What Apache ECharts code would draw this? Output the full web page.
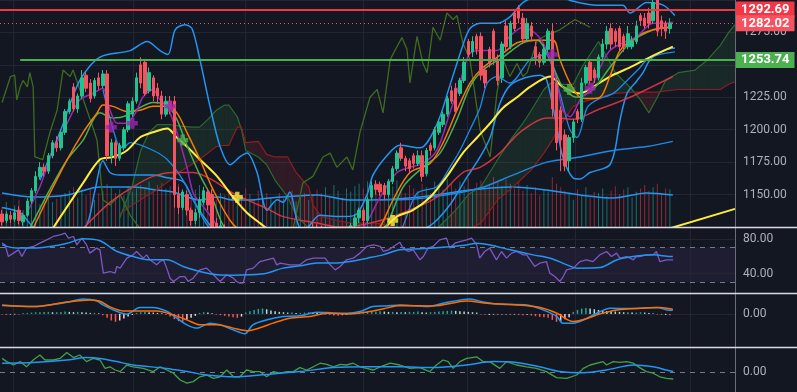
<!DOCTYPE html>
<html><head><meta charset="utf-8">
<script src="https://cdn.jsdelivr.net/npm/echarts@6/dist/echarts.min.js"></script>
<style>html,body{margin:0;padding:0;background:#131722;}#c{width:797px;height:392px;}</style>
</head><body><div id="c"></div>
<script>
// ---------- DATA ----------
const slotCount = 175; // 160 bars + future space
const categories = Array.from({length: slotCount}, (_, i) => 'D' + i);

// [open, close, low, high]
const ohlc = [
[1135,1129,1126,1138],[1130,1135,1128,1137],[1134,1131,1128,1137],[1131,1136,1129,1139],[1138,1130,1127,1141],
[1129,1134,1126,1136],[1134,1145,1133,1147],[1145,1153,1143,1155],[1153,1164,1151,1168],[1164,1171,1162,1175],
[1171,1168,1164,1174],[1168,1180,1166,1182],[1180,1190,1178,1192],[1190,1186,1183,1195],[1186,1198,1184,1200],
[1198,1214,1196,1216],[1214,1222,1212,1224],[1233,1216,1214,1236],[1216,1226,1213,1228],[1226,1240,1224,1246],
[1242,1232,1229,1245],[1236,1224,1221,1239],[1226,1238,1224,1240],[1240,1234,1231,1244],[1234,1243,1232,1246],
[1243,1180,1176,1246],[1180,1190,1174,1193],[1190,1178,1172,1192],[1178,1188,1176,1190],[1186,1200,1184,1202],
[1200,1220,1198,1222],[1212,1222,1210,1225],[1222,1240,1220,1244],[1250,1236,1232,1256],[1252,1228,1226,1254],
[1230,1244,1228,1248],[1240,1226,1222,1242],[1232,1226,1220,1236],[1226,1212,1208,1230],[1212,1222,1210,1226],
[1222,1218,1212,1226],[1222,1150,1140,1226],[1150,1140,1135,1156],[1140,1152,1138,1154],[1150,1138,1134,1153],
[1138,1130,1126,1140],[1130,1136,1127,1139],[1136,1146,1132,1148],[1144,1153,1142,1156],[1152,1142,1138,1155],
[1150,1125,1120,1154],[1128,1118,1114,1132],[1120,1126,1116,1130],[1124,1116,1112,1127],[1116,1110,1105,1120],
[1110,1104,1098,1114],[1104,1108,1100,1112],[1108,1100,1094,1110],[1100,1094,1088,1104],[1094,1098,1090,1102],
[1098,1092,1086,1100],[1092,1088,1082,1096],[1088,1094,1085,1098],[1094,1090,1084,1097],[1090,1096,1087,1100],
[1096,1102,1092,1106],[1102,1098,1094,1108],[1098,1104,1095,1110],[1104,1110,1100,1114],[1110,1106,1102,1116],
[1106,1112,1103,1118],[1112,1118,1108,1122],[1118,1114,1110,1124],[1114,1120,1111,1126],[1122,1116,1112,1128],
[1120,1114,1110,1127],[1116,1110,1106,1126],[1110,1114,1104,1118],[1114,1108,1102,1120],[1108,1112,1104,1116],
[1112,1118,1108,1121],[1118,1114,1110,1122],[1114,1120,1112,1124],[1120,1126,1118,1128],[1126,1132,1122,1135],
[1132,1138,1128,1140],[1138,1130,1126,1140],[1130,1146,1128,1148],[1148,1157,1146,1160],[1158,1154,1150,1161],
[1158,1152,1149,1160],[1157,1150,1146,1159],[1150,1160,1148,1162],[1160,1170,1158,1172],[1170,1182,1168,1184],
[1186,1178,1176,1190],[1178,1172,1168,1180],[1176,1170,1166,1178],[1180,1174,1170,1182],[1174,1180,1172,1184],
[1180,1164,1160,1184],[1166,1184,1164,1186],[1188,1184,1180,1190],[1186,1200,1184,1202],[1198,1206,1196,1208],
[1204,1212,1202,1214],[1212,1224,1210,1226],[1230,1222,1220,1234],[1232,1214,1212,1236],[1228,1238,1226,1240],
[1238,1252,1236,1256],[1268,1258,1256,1270],[1260,1268,1256,1272],[1272,1262,1258,1274],[1272,1242,1238,1275],
[1246,1236,1232,1248],[1262,1251,1248,1264],[1276,1254,1250,1278],[1254,1238,1234,1258],[1240,1266,1236,1268],
[1280,1264,1260,1284],[1264,1282,1262,1284],[1290,1278,1276,1292],[1294,1286,1282,1296],[1286,1270,1266,1290],
[1270,1282,1268,1286],[1280,1272,1268,1283],[1264,1255,1250,1268],[1258,1252,1248,1260],[1252,1262,1250,1266],
[1262,1276,1258,1278],[1276,1216,1210,1282],[1236,1190,1184,1240],[1215,1192,1168,1218],[1196,1172,1168,1200],
[1176,1194,1168,1196],[1194,1206,1190,1208],[1214,1208,1205,1216],[1208,1236,1206,1240],[1236,1248,1234,1250],
[1252,1238,1235,1254],[1246,1240,1236,1248],[1240,1256,1238,1258],[1256,1266,1254,1270],[1266,1276,1262,1280],
[1278,1266,1262,1282],[1276,1268,1264,1278],[1278,1264,1260,1280],[1272,1264,1260,1274],[1264,1274,1262,1280],
[1264,1268,1262,1272],[1268,1280,1266,1284],[1288,1284,1280,1290],[1286,1280,1278,1290],[1290,1282,1278,1294],
[1284,1298,1282,1304],[1300,1276,1272,1306],[1284,1278,1272,1288],[1282,1276,1270,1284],[1278,1282.02,1274,1286]
];

const volume = [
88,110,70,95,120,75,105,
130,140,100,120,145,110,125,135,
150,160,175,130,165,140,170,120,150,
160,190,175,150,165,140,180,155,170,185,
175,200,160,185,195,170,180,210,190,
150,175,130,165,185,140,160,180,120,150,
140,165,120,150,130,170,145,125,160,135,150,
130,110,150,125,140,160,115,135,150,120,145,165,
150,175,140,185,160,130,170,155,180,190,
170,200,160,185,150,175,195,180,205,165,150,185,170,160,190,
175,150,200,185,165,210,190,170,200,180,215,160,195,205,175,185,220,200,180,210,
190,170,200,160,185,150,175,140,165,155,220,190,175,160,150,
120,165,140,175,130,155,150,170,135,160,180,145,165,175,130,155,170,185,160,175,190,150,170,165
];
const volumeMA = [[0,150],[7.4,132],[15.5,141],[23.3,176],[31.2,176],[36.9,163],[40.7,154],[47.1,119],[51.2,132],[55,119],[59,119],[63.8,128],[66.9,132],[75,141],[82.8,119],[87.6,119],[99.5,132],[111.4,163],[121.6,176],[129.7,163],[137.6,141],[145.5,128],[153.5,150],[159.7,141]];

// overlay lines: [bar index, price]
const bbUpper = [[9,1161],[14,1200],[18.5,1238],[23.3,1256],[30.5,1261],[34.5,1268],[37.6,1261],[39.5,1258],[41.2,1277],[43.5,1281],[45.2,1278],[47.1,1254],[49.5,1218],[51.9,1187],[54.3,1173],[56.6,1179],[58.3,1182],[60.7,1167],[63.1,1138],[65.5,1146],[66.9,1144],[68.5,1152],[70.2,1130],[71.6,1121],[75.7,1134],[80.5,1133],[84,1134],[86.9,1150],[88.3,1165],[91.6,1180],[94.7,1188],[99.5,1186],[103.5,1204],[106.6,1234],[109.7,1265],[111.4,1278],[113.8,1282],[117.8,1282],[120.9,1287],[124,1298],[127.4,1302],[132.8,1302],[136,1299],[141.6,1296],[147.8,1296],[149.5,1290],[153.5,1298],[157.4,1296],[160.2,1288]];
const bbLower = [[0,1140],[4.3,1136],[7.8,1124],[13.8,1118],[19.7,1124],[22.1,1153],[24,1176],[25.7,1167],[28.1,1165],[36,1165],[39.3,1163],[43.1,1160],[45.5,1146],[47.8,1134],[50.2,1124],[54.3,1115],[71,1112],[85.2,1113],[94.7,1118],[101.9,1126],[106.6,1142],[110.2,1161],[113.8,1179],[116.2,1194],[118.5,1220],[120.9,1234],[124.5,1240],[128.1,1242],[129.7,1238],[132.1,1202],[133.5,1179],[135.9,1163],[137.6,1162],[140,1167],[143.1,1170],[144.7,1173],[145.9,1184],[147.1,1207],[148.8,1228],[151.2,1238],[152.6,1244],[154.3,1254],[157.4,1261],[160.2,1263]];
const bbInner = [[24,1231],[27.4,1190],[28.8,1186],[30.5,1190],[36,1184],[39.3,1177],[43.1,1161],[47.1,1136],[49.5,1124],[54.3,1115],[92.4,1115],[98.8,1151],[103.5,1156],[106.6,1171],[109,1184],[111.4,1200],[113.8,1217],[115.5,1236],[117.8,1241],[120.9,1236],[125.7,1254],[129.7,1258],[132.8,1228],[135.2,1200],[136.9,1194],[139.3,1217],[141.6,1223],[145.5,1228],[148.8,1238],[151.9,1248],[153.5,1254],[156.6,1258],[160.2,1260]];
const emaPurple = [[5.9,1136],[9,1156],[12.1,1184],[15.5,1205],[18.5,1223],[21.6,1228],[24,1232],[25.7,1215],[27.4,1205],[29.7,1205],[32.1,1215],[33.5,1225],[35.9,1231],[37.6,1223],[39.3,1218],[41.6,1198],[44,1171],[45.5,1151],[47.1,1144],[49.5,1134],[51.9,1123],[56.6,1110],[71,1100],[80.5,1112],[85.2,1121],[87.6,1133],[90,1148],[94,1167],[97.1,1171],[100.2,1174],[103.5,1184],[106.6,1213],[109,1236],[111.4,1259],[114.5,1261],[117.8,1261],[120.9,1272],[124,1279],[127.4,1273],[129.7,1261],[132.1,1236],[133.5,1215],[135.2,1210],[137.6,1223],[140,1231],[142.4,1248],[144.7,1261],[147.8,1267],[151.2,1272],[155,1282],[158.3,1282],[159.7,1283]];
const emaOrange = [[7.4,1124],[11.4,1151],[15.5,1177],[19.3,1198],[22.6,1213],[24,1219],[26.4,1218],[29.7,1214],[32.8,1215],[35.9,1218],[39.3,1218],[41.6,1213],[44,1198],[47.1,1177],[50.2,1154],[54.3,1130],[57.8,1120],[71,1105],[82.8,1110],[87.6,1118],[90,1125],[93.1,1146],[97.1,1167],[101.9,1174],[105,1190],[108.3,1215],[111.4,1236],[114.5,1248],[119.3,1259],[122.6,1267],[126.4,1269],[131.2,1269],[132.8,1254],[135.2,1236],[137.6,1225],[140,1224],[142.4,1225],[144.7,1241],[147.1,1261],[151.2,1272],[155,1277],[159,1279]];
const maGreen = [[6.6,1124],[11.4,1154],[15.5,1177],[19.3,1192],[23.3,1213],[26.4,1209],[29.7,1211],[32.8,1217],[35.9,1221],[39.3,1219],[41.6,1208],[44,1188],[47.1,1165],[50.2,1146],[53.1,1124],[59,1112],[75.7,1100],[87.6,1112],[91.2,1124],[95.5,1156],[100.2,1171],[104.3,1182],[108.3,1208],[111.4,1233],[114.5,1246],[119.3,1256],[124,1267],[127.4,1269],[131.2,1248],[133.5,1233],[136.9,1225],[140.7,1231],[144.7,1248],[149.5,1267],[155,1277],[159,1279]];
const maYellow = [[12.1,1124],[19.3,1159],[23.3,1177],[26.4,1179],[29.7,1184],[32.8,1194],[35.9,1198],[39.3,1201],[41.6,1194],[44,1187],[47.1,1177],[51.2,1164],[55,1148],[58.3,1136],[61.4,1128],[65,1120],[75.7,1112],[87.6,1120],[91.2,1125],[94,1133],[97.8,1138],[101.9,1148],[105.9,1164],[109.7,1182],[113.1,1194],[116.2,1205],[119.3,1217],[122.6,1225],[125.7,1233],[130.5,1241],[133.5,1233],[137.6,1228],[140.7,1233],[144.7,1241],[149.5,1248],[154.3,1256],[159.7,1264]];
const maRed = [[19.3,1124],[25.7,1144],[31.2,1156],[35.9,1164],[40.7,1167],[45.5,1167],[50.2,1161],[55,1151],[59.7,1144],[63.8,1138],[66.9,1133],[75,1128],[80.5,1125],[87.6,1128],[95.5,1136],[103.5,1148],[109.7,1167],[113.8,1171],[118.5,1182],[123.3,1198],[129.7,1209],[132.8,1209],[135.9,1208],[141.6,1215],[149.5,1225],[159.7,1241]];
const maBlueLong = [[90,1146],[94.7,1146],[104.3,1149],[113.8,1155],[121.6,1165],[129.7,1175],[137.6,1179],[145.5,1184],[153.5,1187],[159.7,1191]];
const trendYellow = [[158,1123],[174.5,1139]];
const chikou = [[0,1221],[2,1241],[3,1242],[3.5,1223],[4.3,1233],[5,1238],[6,1233],[6.6,1244],[7.4,1233],[7.8,1179],[9.7,1177],[11.4,1198],[13.1,1215],[14.5,1246],[16.2,1241],[16.9,1246],[18.5,1231],[20.2,1215],[21.6,1202],[22.6,1192],[23.3,1169],[24,1146],[25.7,1142],[28.1,1150],[30.5,1134],[32.8,1124],[40,1110],[55,1100],[67,1115],[69.3,1124],[71.6,1159],[74,1164],[76.4,1179],[78.1,1182],[79.7,1171],[82.1,1179],[83.5,1169],[85.2,1198],[87.6,1225],[89.3,1231],[90.7,1213],[92.4,1254],[94,1264],[95.2,1271],[96.4,1262],[97.1,1236],[98.8,1272],[100.2,1251],[101.2,1244],[102.6,1279],[104.3,1269],[105.9,1290],[107.4,1285],[108.3,1288],[109.7,1267],[111.4,1254],[113.8,1200],[116.2,1179],[117.8,1228],[119.3,1254],[120.9,1241],[122.6,1251],[124,1241],[125,1244],[127.4,1269],[129.7,1273],[132.8,1277],[136.4,1285],[140,1279]];

// Ichimoku cloud samples
const cloudIdx = [28,31,33,35,37,40,42,45,47,49,51,53,54,56,57,58,61,63,65,68,70,73,74,76,80,83,89,95,100,104,108,111,114,118,121,124,126,129,131,133,136,138,140,142,146,150,152,154,156,158,161,165,168,171,173,174.5];
const spanA = [1132,1157,1184,1198,1204,1204,1203,1202,1202,1208,1215,1219,1219,1210,1200,1184,1179,1173,1161,1148,1134,1124,1119,1115,1111,1111,1111,1115,1119,1125,1138,1150,1156,1177,1192,1205,1215,1231,1237,1235,1235,1248,1258,1268,1244,1231,1223,1213,1225,1238,1244,1246,1254,1265,1275,1281];
const spanB = [1135,1142,1146,1150,1154,1161,1167,1173,1177,1182,1187,1188,1188,1202,1202,1190,1191,1181,1179,1179,1167,1156,1142,1133,1130,1128,1128,1124,1123,1121,1121,1123,1128,1146,1154,1163,1169,1182,1192,1204,1218,1221,1223,1225,1228,1229,1229,1229,1229,1230,1231,1231,1231,1231,1235,1237];

// signal crosses
const crossPurple = [[26,1202],[31,1205],[40,1218],[131,1258],[140,1232]];
const crossGreen = [[43,1192],[135,1231]];
const crossYellow = [[56,1148],[93,1130]];

// horizontal levels
const levelRed = 1292.69, levelLast = 1282.02, levelGreen = 1253.74, levelGreenStart = 4.3;
// date grid positions (bar index)
const timeGrid = [2.6, 31.2, 57.8, 85.9, 110.7, 136.4, 163.8];

// RSI
const rsi = [[0,75],[0.7,73],[1.5,59.6],[2.7,63.5],[3.9,67.3],[4.7,59.6],[5.8,69.3],[7.4,71.2],[9,75],[10.6,78.8],[12.2,82.7],[13.8,84.6],[15,86.5],[15.8,80.8],[17,82.7],[17.8,73],[19,80.8],[20.1,73],[20.9,63.5],[22.5,69.3],[23.3,67.3],[24.1,40.4],[25.7,42.3],[26.9,40.4],[27.3,48.1],[28.1,46.2],[29.7,57.7],[31.2,61.5],[32,65.4],[33.6,57.7],[34.4,61.5],[35.2,55.8],[36.8,50],[37.6,53.8],[38.4,55.8],[39.2,46.2],[40,34.6],[40.8,30.8],[42.4,36.5],[43.5,36.5],[44.3,30.8],[45.5,34.6],[47.1,44.2],[48.7,46.2],[50.3,38.5],[51.9,30.8],[53.5,38.5],[55.1,34.6],[55.8,30.8],[56.6,28.9],[57.4,28.9],[58.2,44.2],[59.8,46.2],[61.4,53.8],[63,55.8],[64.6,57.7],[65.4,50],[66.2,51.9],[68.5,50],[70.9,50],[72.5,55.8],[74.1,57.7],[75.7,57.7],[76.9,57.7],[78.1,50],[79.3,44.2],[80.5,48.1],[82,55.8],[83.6,57.7],[85.2,63.5],[86.8,71.2],[88.4,73],[90,71.2],[90.8,65.4],[92,67.3],[93.2,71.2],[94.7,76],[95.5,69.3],[96.7,65.4],[97.9,67.3],[99.5,55.8],[100.3,59.6],[101.4,69.3],[102.6,71.2],[104.2,78.8],[105.8,80.8],[106.6,69.3],[107.8,75],[109,76.9],[110.6,78.8],[111.8,80.8],[113,73],[113.7,57.7],[114.9,65.4],[116.1,69.3],[117.7,55.8],[118.9,65.4],[120.1,57.7],[121.3,63.5],[122.5,65.4],[124.1,61.5],[124.9,61.5],[126,53.8],[126.8,48.1],[128,51.9],[129.6,53.8],[130.4,40.4],[131.6,36.5],[132.8,30.8],[133.6,36.5],[134.4,44.2],[136,46.2],[137.6,53.8],[139.1,55.8],[140.7,53.8],[142.3,61.5],[143.9,65.4],[145.1,59.6],[146.3,63.5],[147.1,57.7],[148.7,59.6],[150.3,55.8],[151,59.6],[151.8,59.6],[153.4,61.5],[155,61.5],[155.8,65.4],[156.6,53.8],[158.2,55.8],[159.8,55.8]];
const rsiMA = [[0,73],[3.5,69.3],[7.4,69.3],[11.4,71.2],[15.5,75],[19.3,80],[23.3,77.7],[27.4,65.4],[31.2,59.6],[35.2,55.8],[39.3,55.8],[43.1,48.1],[47.1,42.3],[51.2,38.5],[55,38],[59,38.5],[63,40.4],[66.9,46.2],[71,49],[75,52],[78.8,52],[82.8,53.8],[86.9,57.7],[90.7,61.5],[94.7,67.3],[102.6,69.3],[110.7,73],[113,75],[116.2,73],[121,67.3],[126.4,61.5],[130.5,57.7],[134.5,50],[136.9,46.2],[142.4,46.9],[146.4,55.8],[150.2,59.6],[155,61.5],[158.3,60],[159.7,59.6]];

// MACD
const macdLine = [[0,2.7],[7.4,2.2],[15.5,3.5],[19.3,4.5],[22.6,3.9],[24,2.7],[27.4,0.7],[29.7,-0.1],[32.8,1.9],[35.9,1.9],[39.3,0.7],[41.6,-1.3],[44,-3.3],[46.4,-4.3],[49.5,-2.8],[51.9,-3.3],[55,-4.8],[57.8,-6],[59.7,-3.3],[63.1,-1.8],[66.9,-0.8],[70.9,-0.6],[75,0.5],[78.8,0.3],[82.1,0.2],[85.2,0.7],[88.3,2.2],[91.6,2.4],[94.7,2.7],[101.2,2.2],[105,3.2],[111.4,4.5],[114.5,3.6],[118.5,2.9],[125,2.7],[128.8,1.2],[132.1,-0.8],[133.5,-2.8],[135.9,-2.8],[139.3,-1.3],[142.4,0.7],[144.7,1.7],[150.2,1.6],[155.9,1.9],[158.3,1.2],[159.7,1.1]];
const macdSignal = [[0,2.5],[7.4,2.2],[15.5,3.6],[21,4.2],[23.3,3.8],[25.7,2.1],[28.8,0.9],[32.8,0.9],[36.9,0.9],[40.7,-0.3],[44,-1.8],[47.1,-3.3],[51.2,-3.3],[55,-4.3],[58.3,-5.1],[61.4,-4.2],[64.5,-2.8],[68.5,-1.3],[73.3,-0.8],[77.4,0.2],[82.8,0],[86.9,0.6],[90.7,1.5],[94.7,2.5],[102.6,2.4],[110.7,3.9],[115.5,3.2],[122.6,2.7],[128.1,1.9],[132.1,0.2],[135.9,-2.3],[138.3,-1.8],[142.4,0],[146.4,1.2],[151.9,1.7],[156.6,1.9],[159.7,1.4]];
const macdHist = [
-0.2,-0.3,-0.2,-0.2,-0.1,0.2,0.3,
0.4,0.5,0.5,0.6,0.6,0.5,0.5,0.6,0.7,0.6,0.5,0.6,0.5,0.4,0.3,0.3,0.2,
-0.4,-1.2,-2.0,-2.4,-2.0,-1.4,-0.8,-0.3,
0.3,0.5,0.6,0.5,0.4,0.3,0.2,
-0.3,-0.8,-1.6,-2.2,-2.4,-1.8,-1.2,-0.6,
0.3,0.5,0.4,0.2,-0.2,-0.4,-0.6,-0.8,
-1.0,-1.2,-0.8,
0.4,0.8,1.2,1.5,1.6,1.4,1.0,0.8,
0.6,0.5,0.4,0.4,0.3,0.3,0.4,
0.5,0.4,0.3,0.2,-0.2,-0.3,
-0.5,-0.6,-0.4,-0.3,
0.3,0.4,0.5,0.6,0.6,0.7,0.7,0.8,0.7,0.6,0.6,0.5,0.6,
0.5,0.6,0.6,0.7,0.5,0.4,0.5,0.6,
0.7,0.8,0.9,1.0,0.9,0.8,0.7,0.6,0.5,0.4,
-0.2,-0.3,-0.3,-0.2,-0.3,-0.2,-0.2,-0.3,-0.2,-0.3,-0.4,-0.3,-0.5,
-0.7,-0.9,-1.0,-1.2,
-1.8,-2.4,-2.2,-1.6,-1.0,
0.6,1.2,1.6,1.8,1.6,1.4,
1.2,1.0,0.9,0.8,0.7,0.6,0.5,0.5,0.4,
0.4,0.5,0.4,0.3,0.3,
-0.2,-0.3,-0.3,-0.4
];

// bottom oscillator
const oscLine = [[0,3.4],[1.1,2.6],[2.7,1.75],[4.3,2.6],[5.8,1.3],[7.4,3.0],[9,4.25],[10.2,3.0],[12.2,3.0],[13.8,3.4],[15.4,4.9],[17,3.6],[18.5,4.25],[20.1,2.6],[21.7,3.4],[23.3,3.0],[24.5,0.9],[25.7,1.3],[26.9,0.5],[28.1,0.1],[29.7,1.75],[31.2,1.3],[33.6,0.9],[36,0.1],[37.6,1.3],[39.2,0.5],[40.8,-0.3],[42.4,-2],[44,-2.8],[45.5,-2.4],[47.1,-1.2],[48.7,-0.75],[50.3,-1.6],[51.9,-1.2],[53.5,0.5],[55.1,-1.2],[56.6,-1.2],[58.2,0.5],[59.8,0.1],[61.4,0.1],[63,-1.2],[64.6,0.1],[66.2,-0.3],[67.8,0.1],[69.3,0.1],[70.9,1.1],[72.5,0.5],[74.1,1.3],[75.7,2.2],[77.3,1.9],[78.9,1.3],[80.5,1.9],[82,1.75],[83.6,2.2],[85.2,1.3],[86.8,0.9],[88.4,0.5],[90,1.3],[92.4,2.2],[94.7,1.75],[97.1,0.9],[99.5,1.1],[101.8,0.1],[103.4,1.75],[105,3.0],[106.2,2.6],[107.4,0.9],[109,2.6],[110.6,3.4],[113,3.8],[114.5,2.6],[116.1,2.6],[118.5,0.9],[120.1,2.6],[122.5,1.75],[124.9,1.3],[127.2,0.9],[129.6,0.1],[132,-1.4],[134.4,-1.6],[136.8,-0.75],[138.4,0.9],[140,1.75],[143.1,2.6],[143.9,1.75],[145.5,2.6],[147.1,2.4],[148.7,2.6],[150.3,2.2],[151.8,1.1],[153.4,0.1],[155,-0.3],[156.6,-1.2],[158.2,-1.6],[159.8,-1.75]];
const oscSignal = [[0,2.2],[7.4,2.4],[15.4,3.0],[20.1,3.6],[23.3,3.4],[27.3,2.6],[31.2,1.75],[39.2,0.9],[44,0.1],[48.7,-0.75],[55.1,-1.2],[63,-0.6],[70.9,0.1],[78.9,1.1],[86.8,1.3],[94.7,1.3],[102.6,1.1],[110.6,1.75],[116.9,2.6],[122.5,2.4],[128,1.3],[132.8,0.1],[138.4,-0.2],[143.9,0.5],[150.3,1.75],[155,1.3],[158.2,0.5],[159.8,0.1]];

// ---------- CHART ----------
const bg = '#131722', gridC = '#232632', axisTxt = '#aeb1ba';
const upC = '#22c38e', downC = '#f7525f';
const chart = echarts.init(document.getElementById('c'), null, {renderer: 'canvas'});
const W = 797, RIGHT = 62;
const grids = [
  {left: 0, right: RIGHT, top: 0, height: 227},
  {left: 0, right: RIGHT, top: 228, height: 65},
  {left: 0, right: RIGHT, top: 294, height: 53},
  {left: 0, right: RIGHT, top: 348, height: 44}
].map(g => Object.assign(g, {outerBoundsMode: 'none', containLabel: false}));

const catAxis = (gi) => ({type: 'category', gridIndex: gi, data: categories, show: false, boundaryGap: true});
const valX = (gi) => ({type: 'value', gridIndex: gi, min: -0.5, max: slotCount - 0.5, show: false});
const lbl = {color: axisTxt, fontSize: 12, fontFamily: 'Roboto', margin: 8};

function line(data, color, width, xi, yi, extra) {
  return Object.assign({type: 'line', data, xAxisIndex: xi, yAxisIndex: yi, symbol: 'none', silent: true,
    lineStyle: {color, width}, z: 3, clip: true, animation: false}, extra || {});
}
const LZ = 10; // lower panes drawn above the main-pane mask
const vgrid = (z) => ({silent: true, symbol: 'none', z, label: {show: false}, lineStyle: {color: gridC, width: 1, type: 'solid'},
  data: timeGrid.map(v => ({xAxis: v}))});

function renderCloud(params, api) {
  const i = params.dataIndex;
  if (i >= cloudIdx.length - 1) return null;
  const x0 = cloudIdx[i], x1 = cloudIdx[i + 1];
  const a0 = spanA[i], a1 = spanA[i + 1], b0 = spanB[i], b1 = spanB[i + 1];
  const d0 = a0 - b0, d1 = a1 - b1;
  const P = (x, v) => api.coord([x, v]);
  const polys = [];
  if (d0 * d1 < 0) {
    const t = d0 / (d0 - d1);
    const xm = x0 + t * (x1 - x0), vm = a0 + t * (a1 - a0);
    polys.push({pts: [P(x0, a0), P(xm, vm), P(x0, b0)], up: d0 > 0});
    polys.push({pts: [P(xm, vm), P(x1, a1), P(x1, b1)], up: d1 > 0});
  } else {
    polys.push({pts: [P(x0, a0), P(x1, a1), P(x1, b1), P(x0, b0)], up: (d0 + d1) >= 0});
  }
  return {type: 'group', children: polys.map(p => ({type: 'polygon', shape: {points: p.pts},
    style: {fill: p.up ? 'rgba(76,175,80,0.12)' : 'rgba(242,54,69,0.13)', stroke: null}}))};
}

const crossPath = 'path://M3,0H7V3H10V7H7V10H3V7H0V3H3Z';
function cross(data, color) {
  return {type: 'scatter', xAxisIndex: 1, yAxisIndex: 0, data, symbol: crossPath, symbolSize: 11,
    itemStyle: {color}, z: 6, silent: true};
}
function levelLabel(bgc, value) {
  return {show: true, position: 'end', distance: 1, formatter: value.toFixed(2),
    color: '#ffffff', backgroundColor: bgc, padding: [2, 5, 1, 5], fontSize: 13, fontWeight: 'bold', fontFamily: 'Roboto'};
}
const dashed = {color: '#787b86', width: 1, type: [5, 5]};
const solidGrid = {color: gridC, width: 1, type: 'solid'};

const option = {
  backgroundColor: bg,
  animation: false,
  textStyle: {fontFamily: 'Roboto'},
  grid: grids,
  xAxis: [catAxis(0), valX(0), valX(1), catAxis(2), valX(2), valX(3)],
  yAxis: [
    {type: 'value', gridIndex: 0, position: 'right', min: 1125, max: 1300, interval: 25,
      axisLine: {show: false}, axisTick: {show: false},
      axisLabel: Object.assign({}, lbl, {formatter: v => (v <= 1125 || v >= 1300) ? '' : v.toFixed(2)}),
      splitLine: {show: true, lineStyle: {color: gridC}}},
    {type: 'value', gridIndex: 0, min: 0, max: 1000, show: false},
    {type: 'value', gridIndex: 1, position: 'right', min: 17.5, max: 92.5,
      axisLine: {show: false}, axisTick: {show: false}, splitLine: {show: false},
      axisLabel: Object.assign({}, lbl, {customValues: [40, 80], formatter: v => v.toFixed(2)})},
    {type: 'value', gridIndex: 2, position: 'right', min: -10, max: 6,
      axisLine: {show: false}, axisTick: {show: false}, splitLine: {show: false},
      axisLabel: Object.assign({}, lbl, {customValues: [0], formatter: v => v.toFixed(2)})},
    {type: 'value', gridIndex: 3, position: 'right', min: -5, max: 6,
      axisLine: {show: false}, axisTick: {show: false}, splitLine: {show: false},
      axisLabel: Object.assign({}, lbl, {customValues: [0], formatter: v => v.toFixed(2)})}
  ],
  graphic: [
    // mask below the main pane so candles that run past its bottom edge are hidden
    {type: 'rect', shape: {x: 0, y: 228, width: 735, height: 164}, style: {fill: bg}, z: 8, silent: true},
    {type: 'line', shape: {x1: 0, y1: 227.5, x2: W, y2: 227.5}, style: {stroke: '#d9dce3', lineWidth: 1.5}, z: 100},
    {type: 'line', shape: {x1: 0, y1: 293.5, x2: W, y2: 293.5}, style: {stroke: '#d9dce3', lineWidth: 1.5}, z: 100},
    {type: 'line', shape: {x1: 0, y1: 347.5, x2: W, y2: 347.5}, style: {stroke: '#d9dce3', lineWidth: 1.5}, z: 100},
    {type: 'line', shape: {x1: 735.5, y1: 0, x2: 735.5, y2: 392}, style: {stroke: '#6a6d78', lineWidth: 1}, z: 99}
  ],
  series: [
    line([], gridC, 1, 1, 0, {z: 0, markLine: vgrid(0)}),
    line([], gridC, 1, 2, 2, {z: LZ, markLine: vgrid(LZ)}),
    line([], gridC, 1, 4, 3, {z: LZ, markLine: vgrid(LZ)}),
    line([], gridC, 1, 5, 4, {z: LZ, markLine: vgrid(LZ)}),
    {type: 'bar', xAxisIndex: 0, yAxisIndex: 1, barWidth: 1, silent: true, z: 1,
      data: volume.map((v, i) => ({value: v, itemStyle: {color: ohlc[i][1] >= ohlc[i][0] ? 'rgba(38,166,154,0.6)' : 'rgba(242,54,69,0.55)'}}))},
    line(volumeMA, '#2196f3', 1.5, 1, 1, {smooth: 0.3, z: 2}),
    {type: 'custom', xAxisIndex: 1, yAxisIndex: 0, renderItem: renderCloud, clip: true, z: 1, silent: true,
      data: cloudIdx.map((x, i) => [x, spanA[i], spanB[i]]), encode: {x: 0, y: [1, 2]}},
    line(cloudIdx.map((x, i) => [x, spanA[i]]), '#2b6a2e', 1.2, 1, 0, {z: 2}),
    line(cloudIdx.map((x, i) => [x, spanB[i]]), '#8e1d1f', 1.2, 1, 0, {z: 2}),
    line(chikou, '#3f6c1e', 1.3, 1, 0, {z: 2}),
    line(bbUpper, '#2196f3', 1.5, 1, 0, {smooth: 0.3}),
    line(bbLower, '#2196f3', 1.5, 1, 0, {smooth: 0.3}),
    line(bbInner, '#1e88e5', 1.3, 1, 0, {smooth: 0.3}),
    line(maBlueLong, '#1e88e5', 1.5, 1, 0, {smooth: 0.3}),
    line(maRed, 'rgba(229,57,70,0.85)', 1.5, 1, 0, {smooth: 0.3}),
    line(maYellow, '#ffeb3b', 2, 1, 0, {smooth: 0.3}),
    line(maGreen, '#4caf50', 1.5, 1, 0, {smooth: 0.3}),
    line(emaOrange, '#f57c00', 1.5, 1, 0, {smooth: 0.3}),
    line(emaPurple, '#9c27b0', 1.5, 1, 0, {smooth: 0.3}),
    {type: 'candlestick', xAxisIndex: 0, yAxisIndex: 0, data: ohlc, barWidth: 3, silent: true, z: 5, clip: true,
      itemStyle: {color: upC, color0: downC, borderColor: upC, borderColor0: downC, borderWidth: 1}},
    cross(crossPurple, '#9c27b0'),
    cross(crossGreen, '#4caf50'),
    cross(crossYellow, '#ffeb3b'),
    line(trendYellow, '#ffeb3b', 2, 1, 0, {z: 7, markLine: {silent: true, symbol: 'none', z: 7, data: [
      {yAxis: levelRed, lineStyle: {color: '#f23645', width: 2, type: 'solid'}, label: levelLabel('#f23645', levelRed)},
      {yAxis: levelLast, lineStyle: {color: '#f7525f', width: 1, type: [1, 3]}, label: levelLabel('#f7525f', levelLast)},
      [{coord: [levelGreenStart, levelGreen], lineStyle: {color: '#4caf50', width: 2, type: 'solid'}, label: levelLabel('#4caf50', levelGreen)},
       {coord: [slotCount - 0.5, levelGreen]}]
    ]}}),
    line(rsi, '#7e57c2', 1.3, 2, 2, {z: LZ + 2,
      markArea: {silent: true, z: LZ, itemStyle: {color: 'rgba(126,87,194,0.1)'}, data: [[{yAxis: 30}, {yAxis: 70}]]},
      markLine: {silent: true, symbol: 'none', z: LZ + 1, label: {show: false}, data: [
        {yAxis: 80, lineStyle: solidGrid}, {yAxis: 40, lineStyle: solidGrid},
        {yAxis: 70, lineStyle: dashed}, {yAxis: 30, lineStyle: dashed}
      ]}}),
    line(rsiMA, '#2196f3', 1.5, 2, 2, {smooth: 0.3, z: LZ + 3}),
    {type: 'bar', xAxisIndex: 3, yAxisIndex: 3, barWidth: 1.5, silent: true, z: LZ + 2,
      data: macdHist.map((v, i) => {
        const p = i > 0 ? macdHist[i - 1] : 0;
        const c = v >= 0 ? (v >= p ? '#26a69a' : '#b2dfdb') : (v < p ? '#ff5252' : '#ffcdd2');
        return {value: v, itemStyle: {color: c}};
      }),
      markLine: {silent: true, symbol: 'none', z: LZ + 1, label: {show: false}, data: [{yAxis: 0, lineStyle: solidGrid}]}},
    line(macdLine, '#2196f3', 1.5, 4, 3, {smooth: 0.3, z: LZ + 3}),
    line(macdSignal, '#ff6d00', 1.5, 4, 3, {smooth: 0.3, z: LZ + 3}),
    line(oscLine, '#43a047', 1.3, 5, 4, {z: LZ + 2,
      markLine: {silent: true, symbol: 'none', z: LZ + 1, label: {show: false}, data: [{yAxis: 0, lineStyle: dashed}]}}),
    line(oscSignal, '#2196f3', 1.5, 5, 4, {smooth: 0.3, z: LZ + 3})
  ]
};
chart.setOption(option);
</script></body></html>
